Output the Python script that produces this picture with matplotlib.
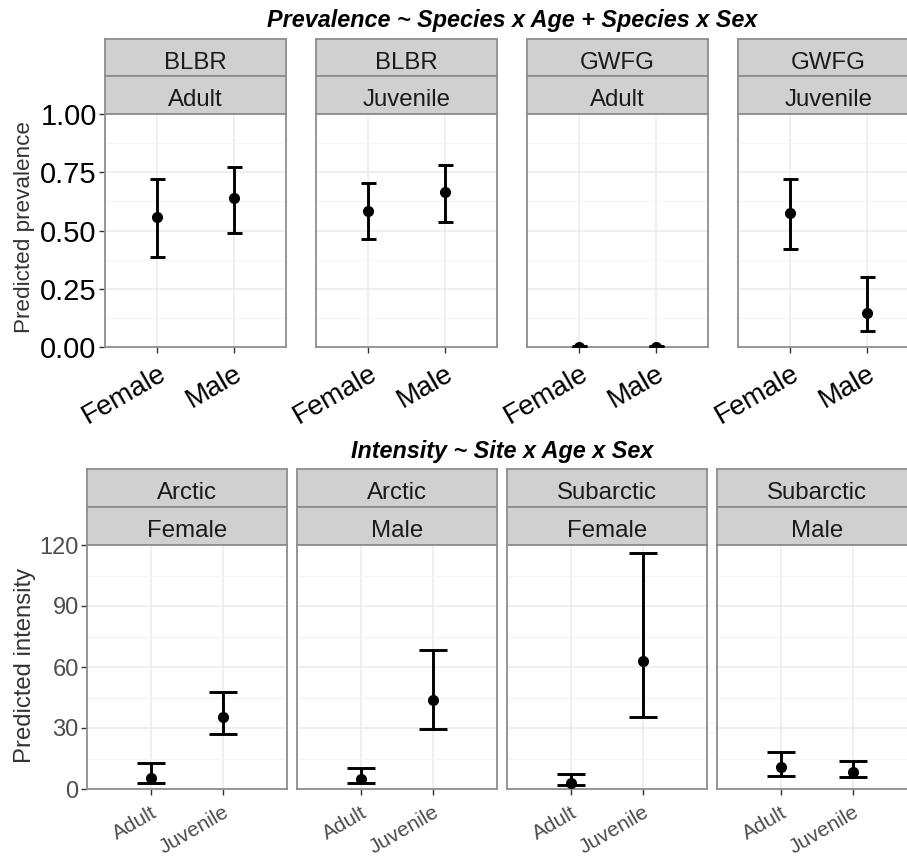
import matplotlib
matplotlib.use("Agg")
import matplotlib.pyplot as plt
from matplotlib.ticker import FixedLocator

plt.rcParams['font.family'] = ['Liberation Sans', 'DejaVu Sans']

# ---------------- data ----------------
prev_species = ["BLBR", "BLBR", "GWFG", "GWFG"]
prev_age = ["Adult", "Juvenile", "Adult", "Juvenile"]
sex_levels = ["Female", "Male"]
prev_fit = [[0.557, 0.641], [0.584, 0.665], [0.0, 0.0], [0.576, 0.147]]
prev_lo = [[0.388, 0.491], [0.465, 0.536], [0.0, 0.0], [0.421, 0.067]]
prev_hi = [[0.721, 0.771], [0.703, 0.781], [0.003, 0.003], [0.721, 0.299]]
prev_yticks = [0.00, 0.25, 0.50, 0.75, 1.00]
prev_yticklabels = ["0.00", "0.25", "0.50", "0.75", "1.00"]

int_site = ["Arctic", "Arctic", "Subarctic", "Subarctic"]
int_sex = ["Female", "Male", "Female", "Male"]
age_levels = ["Adult", "Juvenile"]
int_fit = [[5.6, 35.6], [4.8, 43.8], [2.8, 63.0], [10.7, 8.5]]
int_lo = [[3.1, 27.2], [3.1, 29.5], [2.1, 35.3], [6.6, 5.8]]
int_hi = [[12.6, 47.9], [10.2, 68.4], [7.5, 116.2], [18.4, 13.8]]
int_yticks = [0, 30, 60, 90, 120]
int_yticklabels = ["0", "30", "60", "90", "120"]

title_top = "Prevalence ~ Species x Age + Species x Sex"
title_bot = "Intensity ~ Site x Age x Sex"

# ---------------- layout ----------------
W, H = 907, 856
fig = plt.figure(figsize=(W / 100, H / 100), dpi=100)
fig.patch.set_facecolor("white")

STRIP_FILL = "#D0D0D0"
BORDER = "#8E8E8E"
GRID = "#EBEBEB"


def rect(x0, y0, x1, y1):
    return [x0 / W, 1 - y1 / H, (x1 - x0) / W, (y1 - y0) / H]


def strip(x0, y0, x1, y1, label, size):
    sa = fig.add_axes(rect(x0, y0, x1, y1))
    sa.set_facecolor(STRIP_FILL)
    sa.set_xticks([])
    sa.set_yticks([])
    for s in sa.spines.values():
        s.set_color(BORDER)
        s.set_linewidth(1.3)
    sa.text(0.5, 0.2, label, ha="center", va="baseline", fontsize=size,
            color="#1A1A1A", transform=sa.transAxes)


def panel(x0, y0, x1, y1, cats, fit, lo, hi, ylim, yticks, yticklabels,
          xlim, capsize, first, ytick_size, ytick_color, xtick_size, xtick_color):
    ax = fig.add_axes(rect(x0, y0, x1, y1))
    xs = list(range(len(cats)))
    err = [[f - l for f, l in zip(fit, lo)], [h - f for f, h in zip(fit, hi)]]
    ax.errorbar(xs, fit, yerr=err, fmt="o", color="black", ms=7,
                elinewidth=2.1, capsize=capsize, capthick=2.1, zorder=3)
    ax.set_xlim(*xlim)
    ax.set_ylim(*ylim)
    ax.set_xticks(xs)
    ax.set_xticklabels(cats, rotation=30, ha="right", fontsize=xtick_size,
                       color=xtick_color, rotation_mode="anchor")
    ax.yaxis.set_major_locator(FixedLocator(yticks))
    step = yticks[1] - yticks[0]
    ax.yaxis.set_minor_locator(FixedLocator([t + step / 2 for t in yticks[:-1]]))
    ax.grid(True, which="major", color=GRID, lw=1.1, zorder=0)
    ax.grid(True, which="minor", axis="y", color="#F4F4F4", lw=0.8, zorder=0)
    ax.set_axisbelow(True)
    ax.tick_params(axis="x", length=4, width=1, color="#333333", pad=6)
    ax.tick_params(axis="y", which="minor", length=0)
    if first:
        ax.set_yticklabels(yticklabels, fontsize=ytick_size, color=ytick_color)
        ax.tick_params(axis="y", which="major", length=4, width=1,
                       color="#333333", pad=2)
    else:
        ax.tick_params(axis="y", which="major", length=0, labelleft=False)
    for s in ax.spines.values():
        s.set_color(BORDER)
        s.set_linewidth(1.3)
    return ax


# top row
top_x0 = [105, 316, 527, 738]
for i in range(4):
    x0 = top_x0[i]
    x1 = x0 + 181
    strip(x0, 39, x1, 76, prev_species[i], 17.3)
    strip(x0, 76, x1, 114, prev_age[i], 17.3)
    panel(x0, 114, x1, 347, sex_levels, prev_fit[i], prev_lo[i], prev_hi[i],
          (0, 1), prev_yticks, prev_yticklabels, (-0.69, 1.69), 5.4, i == 0,
          21, "black", 20, "black")

# bottom row
bot_x0 = [87, 297, 507, 717]
for i in range(4):
    x0 = bot_x0[i]
    x1 = x0 + 200
    strip(x0, 469, x1, 507, int_site[i], 17.3)
    strip(x0, 507, x1, 545, int_sex[i], 17.3)
    panel(x0, 545, x1, 789, age_levels, int_fit[i], int_lo[i], int_hi[i],
          (0, 120), int_yticks, int_yticklabels, (-0.9, 1.9), 10, i == 0,
          17, "#4D4D4D", 15, "#4D4D4D")

# titles and axis labels
fig.text(512 / W, 1 - 27 / H, title_top, ha="center", va="baseline",
         fontsize=16.8, fontweight="bold", fontstyle="italic", color="black")
fig.text(502 / W, 1 - 458 / H, title_bot, ha="center", va="baseline",
         fontsize=16.8, fontweight="bold", fontstyle="italic", color="black")
fig.text(25 / W, 1 - 227 / H, "Predicted prevalence", rotation=90,
         ha="center", va="center", fontsize=16.2, color="#333333")
fig.text(25 / W, 1 - 665 / H, "Predicted intensity", rotation=90,
         ha="center", va="center", fontsize=17.2, color="#333333")

fig.savefig("out.png", dpi=100, facecolor="white")
